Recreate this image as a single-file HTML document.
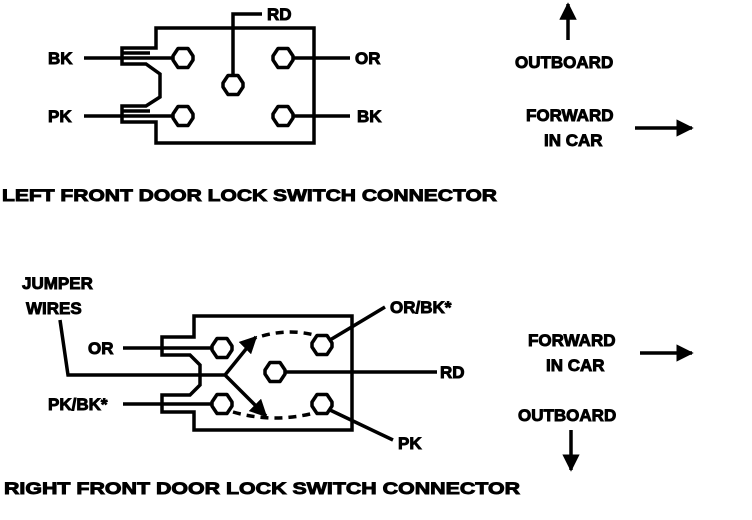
<!DOCTYPE html>
<html><head><style>body{margin:0;background:#fff}svg{display:block}text{font-family:"Liberation Sans",sans-serif;font-weight:bold;font-size:17px;fill:#000;stroke:#000;stroke-width:0.9}</style></head><body>
<svg width="752" height="520" viewBox="0 0 752 520" xmlns="http://www.w3.org/2000/svg">
<defs>
<marker id="ah" viewBox="0 0 10 10" refX="9" refY="5" markerWidth="5" markerHeight="5" orient="auto"><path d="M0,0L10,5L0,10z" fill="#000"/></marker>
<symbol id="hx" viewBox="-10 -10 20 20" overflow="visible"><polygon points="-5,-9.5 5,-9.5 10,-2 10,2 5,9.5 -5,9.5 -10,2 -10,-2" fill="#fff" stroke="#000" stroke-width="3.5" stroke-linejoin="round"/></symbol>
</defs>
<g fill="none" stroke="#000" stroke-width="3.5">
<path d="M156,28 L314,28 L314,143 L156,143 L156,122 L122,122 L122,106 L146,106 L160,97 L160,74 L146,64 L122,64 L122,48 L156,48 Z"/>
<path d="M84,58 L176,58 M84,116 L176,116 M292,58 L350,58 M292,116 L350,116 M233,76 L233,14 L262,14"/>
<path d="M122,53 L150,53 M122,111 L150,111"/>
<path d="M568,40 L568,4" marker-end="url(#ah)"/>
<path d="M635,128 L692,128" marker-end="url(#ah)"/>
<path d="M194,316 L352,316 L352,430 L194,430 L194,412 L162,412 L162,395 L190,395 L200,385 L200,365 L190,355 L162,355 L162,337 L194,337 Z"/>
<path d="M123,348 L213,348 M123,404 L213,404 M285,372 L437,372 M330,340 L385,307 M330,410 L393,440"/>
<path d="M60,320 L68,375 L225,375 L255,338 M225,375 L265,415"/>
<path d="M255,338 L256,337" marker-end="url(#ah)"/>
<path d="M265,415 L266,416" marker-end="url(#ah)"/>
<path d="M262,336 Q290,328 318,336" stroke-dasharray="8,6"/>
<path d="M233,412 Q275,424 318,412" stroke-dasharray="8,6"/>
<path d="M640,353 L692,353" marker-end="url(#ah)"/>
<path d="M571,430 L571,470" marker-end="url(#ah)"/>
</g>
<use href="#hx" x="173" y="48" width="20" height="20"/>
<use href="#hx" x="273" y="48" width="20" height="20"/>
<use href="#hx" x="223" y="75" width="20" height="20"/>
<use href="#hx" x="173" y="106" width="20" height="20"/>
<use href="#hx" x="273" y="106" width="20" height="20"/>
<use href="#hx" x="212" y="338" width="20" height="20"/>
<use href="#hx" x="312" y="335" width="20" height="20"/>
<use href="#hx" x="265" y="362" width="20" height="20"/>
<use href="#hx" x="212" y="394" width="20" height="20"/>
<use href="#hx" x="312" y="394" width="20" height="20"/>
<text x="48" y="64">BK</text>
<text x="48" y="122">PK</text>
<text x="267" y="20">RD</text>
<text x="355" y="64">OR</text>
<text x="357" y="122">BK</text>
<text x="515" y="68">OUTBOARD</text>
<text x="526" y="121">FORWARD</text>
<text x="544" y="146">IN CAR</text>
<text x="2" y="201" textLength="495" lengthAdjust="spacingAndGlyphs">LEFT FRONT DOOR LOCK SWITCH CONNECTOR</text>
<text x="22" y="289">JUMPER</text>
<text x="26" y="314">WIRES</text>
<text x="88" y="354">OR</text>
<text x="48" y="410">PK/BK*</text>
<text x="390" y="313">OR/BK*</text>
<text x="440" y="378">RD</text>
<text x="398" y="449">PK</text>
<text x="528" y="346">FORWARD</text>
<text x="546" y="371">IN CAR</text>
<text x="518" y="421">OUTBOARD</text>
<text x="4" y="494" textLength="516" lengthAdjust="spacingAndGlyphs">RIGHT FRONT DOOR LOCK SWITCH CONNECTOR</text>
</svg>
</body></html>
